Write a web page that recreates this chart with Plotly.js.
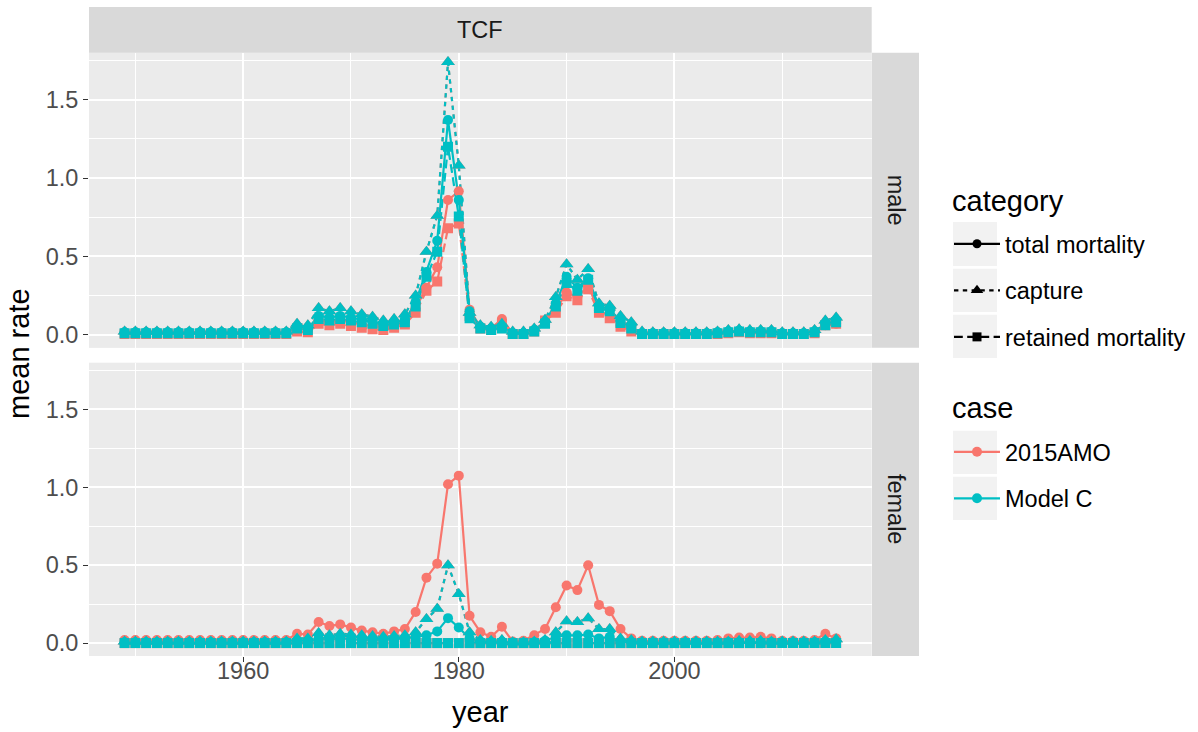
<!DOCTYPE html>
<html>
<head>
<meta charset="utf-8">
<script src="https://cdn.plot.ly/plotly-3.0.1.min.js"></script>
<style>html,body{margin:0;padding:0;background:#fff;}#chart{width:1198px;height:732px;}</style>
</head>
<body>
<div id="chart"></div>
<script>
// ---------- data ----------
const years = [1949,1950,1951,1952,1953,1954,1955,1956,1957,1958,1959,1960,1961,1962,1963,1964,
  1965,1966,1967,1968,1969,1970,1971,1972,1973,1974,
  1975,1976,1977,1978,1979,1980,1981,1982,1983,1984,
  1985,1986,1987,1988,1989,1990,1991,1992,1993,1994,
  1995,1996,1997,1998,1999,2000,2001,2002,2003,2004,
  2005,2006,2007,2008,2009,2010,2011,2012,2013,2014,
  2015];

const categories = ["total mortality", "capture", "retained mortality"];
const cases = ["2015AMO", "Model C"];
const sexes = ["male", "female"];
const fishery = "TCF";
const legendTitles = ["category", "case"];

// male
const maleCapture2015AMO = [0.02,0.02,0.02,0.02,0.02,0.02,0.02,0.02,0.02,0.02,0.02,0.02,0.02,0.02,0.02,0.02,
  0.07,0.06,0.17,0.15,0.17,0.15,0.13,0.115,0.09,0.10,
  0.13,0.25,0.53,0.76,1.74,1.08,0.14,0.06,0.05,0.07,
  0.02,0.02,0.04,0.095,0.24,0.45,0.35,0.42,0.20,0.185,
  0.12,0.08,0.02,0.015,0.015,0.015,0.015,0.015,0.015,0.02,
  0.03,0.035,0.03,0.03,0.03,0.015,0.015,0.015,0.03,0.09,
  0.11];
const maleCaptureModelC = [0.02,0.02,0.02,0.02,0.02,0.02,0.02,0.02,0.02,0.02,0.02,0.02,0.02,0.02,0.02,0.02,
  0.07,0.06,0.17,0.15,0.17,0.15,0.13,0.115,0.09,0.10,
  0.13,0.25,0.53,0.76,1.74,1.08,0.14,0.06,0.05,0.07,
  0.02,0.02,0.04,0.095,0.24,0.45,0.35,0.42,0.20,0.185,
  0.12,0.08,0.02,0.015,0.015,0.015,0.015,0.015,0.015,0.02,
  0.03,0.035,0.03,0.03,0.03,0.015,0.015,0.015,0.03,0.09,
  0.11];
const maleTotal2015AMO = [0.015,0.015,0.015,0.015,0.015,0.015,0.015,0.015,0.015,0.015,0.015,0.015,0.015,0.015,0.015,0.015,
  0.04,0.03,0.09,0.08,0.09,0.08,0.065,0.055,0.045,0.055,
  0.08,0.17,0.30,0.43,0.86,0.915,0.16,0.05,0.04,0.10,
  0.01,0.01,0.03,0.08,0.16,0.27,0.24,0.31,0.155,0.12,
  0.06,0.03,0.01,0.01,0.01,0.01,0.01,0.01,0.01,0.015,
  0.02,0.025,0.02,0.02,0.02,0.01,0.01,0.01,0.02,0.06,
  0.07];
const maleTotalModelC = [0.015,0.015,0.015,0.015,0.015,0.015,0.015,0.015,0.015,0.015,0.015,0.015,0.015,0.015,0.015,0.015,
  0.05,0.04,0.12,0.11,0.12,0.11,0.095,0.08,0.065,0.075,
  0.09,0.21,0.40,0.60,1.37,0.86,0.15,0.05,0.04,0.05,
  0.01,0.01,0.03,0.08,0.20,0.37,0.30,0.36,0.18,0.16,
  0.09,0.05,0.01,0.01,0.01,0.01,0.01,0.01,0.01,0.015,
  0.02,0.025,0.02,0.02,0.02,0.01,0.01,0.01,0.02,0.07,
  0.09];
const maleRetained2015AMO = [0.005,0.005,0.005,0.005,0.005,0.005,0.005,0.005,0.005,0.005,0.005,0.005,0.005,0.005,0.005,0.005,
  0.02,0.015,0.07,0.06,0.07,0.055,0.045,0.035,0.03,0.045,
  0.065,0.14,0.28,0.34,0.68,0.71,0.12,0.04,0.03,0.07,
  0.005,0.005,0.02,0.09,0.14,0.245,0.22,0.29,0.14,0.105,
  0.05,0.02,0.005,0.005,0.005,0.005,0.005,0.005,0.005,0.005,
  0.01,0.015,0.01,0.01,0.01,0.005,0.005,0.005,0.01,0.06,
  0.07];
const maleRetainedModelC = [0.01,0.01,0.01,0.01,0.01,0.01,0.01,0.01,0.01,0.01,0.01,0.01,0.01,0.01,0.01,0.01,
  0.04,0.03,0.10,0.09,0.10,0.09,0.08,0.07,0.055,0.065,
  0.08,0.18,0.37,0.53,1.20,0.755,0.105,0.04,0.03,0.04,
  0.005,0.005,0.02,0.07,0.18,0.33,0.28,0.35,0.17,0.15,
  0.075,0.04,0.005,0.005,0.005,0.005,0.005,0.005,0.005,0.01,
  0.015,0.02,0.015,0.015,0.015,0.005,0.005,0.005,0.015,0.06,
  0.08];

// female
const femaleCapture2015AMO = [0.01,0.01,0.01,0.01,0.01,0.01,0.01,0.01,0.01,0.01,0.01,0.01,0.01,0.01,0.01,0.01,
  0.03,0.03,0.065,0.05,0.06,0.055,0.05,0.045,0.04,0.045,
  0.05,0.07,0.155,0.22,0.50,0.315,0.07,0.02,0.015,0.02,
  0.005,0.005,0.01,0.02,0.07,0.14,0.135,0.16,0.09,0.09,
  0.03,0.02,0.01,0.01,0.01,0.01,0.01,0.01,0.01,0.01,
  0.01,0.015,0.015,0.015,0.01,0.01,0.01,0.01,0.01,0.02,
  0.025];
const femaleCaptureModelC = [0.01,0.01,0.01,0.01,0.01,0.01,0.01,0.01,0.01,0.01,0.01,0.01,0.01,0.01,0.01,0.01,
  0.03,0.03,0.065,0.05,0.06,0.055,0.05,0.045,0.04,0.045,
  0.05,0.07,0.155,0.22,0.50,0.315,0.07,0.02,0.015,0.02,
  0.005,0.005,0.01,0.02,0.07,0.14,0.135,0.16,0.09,0.09,
  0.03,0.02,0.01,0.01,0.01,0.01,0.01,0.01,0.01,0.01,
  0.01,0.015,0.015,0.015,0.01,0.01,0.01,0.01,0.01,0.02,
  0.025];
const femaleTotal2015AMO = [0.02,0.02,0.02,0.02,0.02,0.02,0.02,0.02,0.02,0.02,0.02,0.02,0.02,0.02,0.02,0.02,
  0.06,0.055,0.135,0.11,0.12,0.10,0.08,0.07,0.06,0.075,
  0.09,0.20,0.42,0.51,1.02,1.075,0.175,0.07,0.04,0.105,
  0.01,0.015,0.05,0.09,0.23,0.37,0.34,0.50,0.245,0.205,
  0.09,0.03,0.015,0.015,0.015,0.015,0.015,0.015,0.015,0.02,
  0.03,0.035,0.035,0.04,0.03,0.015,0.015,0.015,0.02,0.06,
  0.03];
const femaleTotalModelC = [0.005,0.005,0.005,0.005,0.005,0.005,0.005,0.005,0.005,0.005,0.005,0.005,0.005,0.005,0.005,0.005,
  0.015,0.015,0.03,0.025,0.03,0.025,0.02,0.02,0.02,0.025,
  0.03,0.04,0.05,0.075,0.16,0.10,0.03,0.01,0.005,0.01,
  0.003,0.003,0.005,0.015,0.04,0.05,0.05,0.055,0.03,0.04,
  0.01,0.005,0.003,0.003,0.003,0.003,0.003,0.003,0.003,0.003,
  0.005,0.005,0.005,0.005,0.005,0.003,0.003,0.003,0.005,0.01,
  0.01];
const femaleRetained2015AMO = [0,0,0,0,0,0,0,0,0,0,0,0,0,0,0,0,
  0,0,0,0,0,0,0,0,0,0,
  0,0,0,0,0,0,0,0,0,0,
  0,0,0,0,0,0,0,0,0,0,
  0,0,0,0,0,0,0,0,0,0,
  0,0,0,0,0,0,0,0,0,0,
  0];
const femaleRetainedModelC = [0,0,0,0,0,0,0,0,0,0,0,0,0,0,0,0,
  0,0,0,0,0,0,0,0,0,0,
  0,0,0,0,0,0,0,0,0,0,
  0,0,0,0,0,0,0,0,0,0,
  0,0,0,0,0,0,0,0,0,0,
  0,0,0,0,0,0,0,0,0,0,
  0];

// ---------- styles ----------
const caseColors = {"2015AMO": "#F8766D", "Model C": "#00BFC4"};
const catDash = {"total mortality": "solid", "capture": "4.4px,4.4px", "retained mortality": "8.8px,4.4px"};
const catSymbol = {"total mortality": "circle", "capture": "triangle-up", "retained mortality": "square"};
const catSize = {"total mortality": 10, "capture": 12, "retained mortality": 10};

const seriesData = {
  male: {
    "2015AMO": {"total mortality": maleTotal2015AMO, "capture": maleCapture2015AMO, "retained mortality": maleRetained2015AMO},
    "Model C": {"total mortality": maleTotalModelC, "capture": maleCaptureModelC, "retained mortality": maleRetainedModelC}
  },
  female: {
    "2015AMO": {"total mortality": femaleTotal2015AMO, "capture": femaleCapture2015AMO, "retained mortality": femaleRetained2015AMO},
    "Model C": {"total mortality": femaleTotalModelC, "capture": femaleCaptureModelC, "retained mortality": femaleRetainedModelC}
  }
};
const axesFor = {male: {xaxis: "x2", yaxis: "y"}, female: {xaxis: "x", yaxis: "y2"}};

const traces = [];
// lines first (as ggplot draws geom_line before geom_point)
sexes.forEach(sex => {
  cases.forEach(cs => {
    categories.forEach(cat => {
      traces.push({
        type: "scatter", mode: "lines", x: years, y: seriesData[sex][cs][cat],
        xaxis: axesFor[sex].xaxis, yaxis: axesFor[sex].yaxis,
        line: {color: caseColors[cs], width: 2.2, dash: catDash[cat]},
        showlegend: false, hoverinfo: "x+y"
      });
    });
  });
});
sexes.forEach(sex => {
  cases.forEach(cs => {
    categories.forEach(cat => {
      traces.push({
        type: "scatter", mode: "markers", x: years, y: seriesData[sex][cs][cat],
        xaxis: axesFor[sex].xaxis, yaxis: axesFor[sex].yaxis,
        marker: {color: caseColors[cs], size: catSize[cat], symbol: catSymbol[cat], line: {width: 0}},
        showlegend: false, hoverinfo: "x+y"
      });
    });
  });
});
// legend entries
categories.forEach((cat, i) => {
  traces.push({
    type: "scatter", mode: "lines+markers", x: [null], y: [null], name: cat,
    legend: "legend", legendgroup: "cat" + i,
    line: {color: "#000000", width: 2.2, dash: catDash[cat]},
    marker: {color: "#000000", size: catSize[cat] - 1, symbol: catSymbol[cat]},
    showlegend: true
  });
});
cases.forEach((cs, i) => {
  traces.push({
    type: "scatter", mode: "lines+markers", x: [null], y: [null], name: cs,
    legend: "legend2", legendgroup: "case" + i,
    line: {color: caseColors[cs], width: 2.2},
    marker: {color: caseColors[cs], size: 10, symbol: "circle"},
    showlegend: true
  });
});

// ---------- layout ----------
const W = 1198, H = 732;
const L = 89, R = 919, T = 7, B = 656;
const pw = R - L, ph = B - T;
const px = v => (v - L) / pw;
const py = v => 1 - (v - T) / ph;
const panelRight = 871.7;
const xDom = [0, px(panelRight)];
const maleDom = [py(347.7), py(52.7)];
const femDom = [py(656), py(362.7)];
const yRange = [-0.083, 1.80];
const FAM = "Liberation Sans, Arial, sans-serif";
const tickFont = {family: FAM, size: 23.5, color: "#4D4D4D"};

const commonX = {
  range: [1945.7, 2018.3], tickmode: "linear", tick0: 1960, dtick: 20,
  showgrid: true, gridcolor: "#FFFFFF", gridwidth: 2,
  minor: {tickmode: "linear", tick0: 1950, dtick: 20, showgrid: true, gridcolor: "#FFFFFF", gridwidth: 1, ticks: ""},
  zeroline: false, showline: false, fixedrange: true, domain: xDom
};
const commonY = {
  range: yRange, tickmode: "linear", tick0: 0, dtick: 0.5, tickformat: ".1f",
  showgrid: true, gridcolor: "#FFFFFF", gridwidth: 2,
  minor: {tickmode: "linear", tick0: 0.25, dtick: 0.5, showgrid: true, gridcolor: "#FFFFFF", gridwidth: 1, ticks: ""},
  zeroline: false, showline: false, fixedrange: true,
  ticks: "outside", ticklen: 5, tickwidth: 1, tickcolor: "#333333", tickfont: tickFont
};

const shapes = [
  {type: "rect", xref: "paper", yref: "paper", x0: 0, x1: px(panelRight), y0: py(52.7), y1: 1, fillcolor: "#D9D9D9", line: {width: 0}},
  {type: "rect", xref: "paper", yref: "paper", x0: px(872), x1: 1, y0: maleDom[0], y1: maleDom[1], fillcolor: "#D9D9D9", line: {width: 0}},
  {type: "rect", xref: "paper", yref: "paper", x0: px(872), x1: 1, y0: femDom[0], y1: femDom[1], fillcolor: "#D9D9D9", line: {width: 0}}
];
// legend key backgrounds
[[222, 266], [268.7, 312], [314.7, 358], [430.7, 474], [476.7, 520]].forEach(b => {
  shapes.push({type: "rect", xref: "paper", yref: "paper", x0: px(953), x1: px(997), y0: py(b[1]), y1: py(b[0]),
    fillcolor: "#F2F2F2", line: {width: 0}, layer: "below"});
});

const annotations = [
  {text: fishery, xref: "paper", yref: "paper", x: px((L + panelRight) / 2), y: py(29.9), showarrow: false,
    xanchor: "center", yanchor: "middle", font: {family: FAM, size: 23.5, color: "#1A1A1A"}},
  {text: sexes[0], xref: "paper", yref: "paper", x: px(895.5), y: py(200.2), showarrow: false, textangle: 90,
    xanchor: "center", yanchor: "middle", font: {family: FAM, size: 23.5, color: "#1A1A1A"}},
  {text: sexes[1], xref: "paper", yref: "paper", x: px(895.5), y: py(509.4), showarrow: false, textangle: 90,
    xanchor: "center", yanchor: "middle", font: {family: FAM, size: 23.5, color: "#1A1A1A"}},
  {text: "mean rate", xref: "paper", yref: "paper", x: px(19), y: py(354), showarrow: false, textangle: -90,
    xanchor: "center", yanchor: "middle", font: {family: FAM, size: 29, color: "#000000"}},
  {text: "year", xref: "paper", yref: "paper", x: px(480), y: py(712), showarrow: false,
    xanchor: "center", yanchor: "middle", font: {family: FAM, size: 29, color: "#000000"}},
  {text: legendTitles[0], xref: "paper", yref: "paper", x: px(950), y: py(201), showarrow: false,
    xanchor: "left", yanchor: "middle", font: {family: FAM, size: 29, color: "#000000"}},
  {text: legendTitles[1], xref: "paper", yref: "paper", x: px(950), y: py(408), showarrow: false,
    xanchor: "left", yanchor: "middle", font: {family: FAM, size: 29, color: "#000000"}}
];

const legendFont = {family: FAM, size: 23.5, color: "#000000"};
const layout = {
  width: W, height: H,
  margin: {l: L, r: W - R, t: T, b: H - B, pad: 0},
  paper_bgcolor: "#FFFFFF", plot_bgcolor: "#EBEBEB",
  font: {family: FAM},
  xaxis: Object.assign({}, commonX, {anchor: "y2", ticks: "outside", ticklen: 5, tickwidth: 1, tickcolor: "#333333", tickfont: tickFont, ticklabelstandoff: -11}),
  xaxis2: Object.assign({}, commonX, {anchor: "y", matches: "x", showticklabels: false, ticks: ""}),
  yaxis: Object.assign({}, commonY, {domain: maleDom, anchor: "x2"}),
  yaxis2: Object.assign({}, commonY, {domain: femDom, anchor: "x"}),
  shapes: shapes,
  annotations: annotations,
  showlegend: true,
  legend: {
    x: px(949), y: py(222), xanchor: "left", yanchor: "top",
    bgcolor: "rgba(0,0,0,0)", borderwidth: 0, tracegroupgap: 13, itemwidth: 46,
    font: legendFont, itemclick: false, itemdoubleclick: false
  },
  legend2: {
    x: px(949), y: py(430), xanchor: "left", yanchor: "top",
    bgcolor: "rgba(0,0,0,0)", borderwidth: 0, tracegroupgap: 13, itemwidth: 46,
    font: legendFont, itemclick: false, itemdoubleclick: false
  }
};

Plotly.newPlot("chart", traces, layout, {displayModeBar: false, staticPlot: true});
</script>
</body>
</html>
